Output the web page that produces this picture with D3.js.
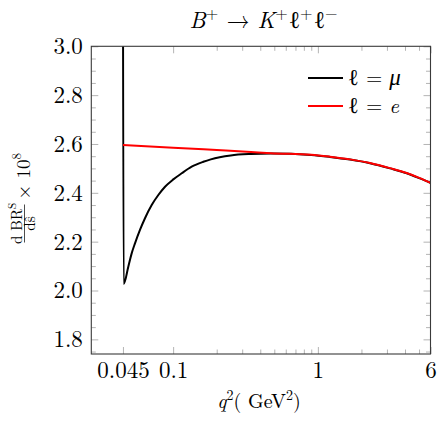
<!DOCTYPE html>
<html>
<head>
<meta charset="utf-8">
<script src="https://cdn.jsdelivr.net/npm/d3@7"></script>
<style>
  body { margin: 0; background: #fff; }
</style>
</head>
<body>
<div class="container"></div>
<script>
// q^2 values (GeV^2) and dBR/ds x 10^8
const q2Mu = [0.045, 0.0455, 0.049, 0.0517, 0.0545, 0.059, 0.0639, 0.0711, 0.079, 0.0879, 0.1003, 0.1146, 0.1343, 0.1616, 0.182, 0.25, 0.345, 0.474, 0.9, 1.213, 1.667, 2.292, 3.15, 4.109, 5.069, 6.0];
const brMu = [3.3, 2.027, 2.0975, 2.152, 2.193, 2.248, 2.296, 2.35, 2.391, 2.425, 2.455, 2.48, 2.507, 2.527, 2.537, 2.553, 2.559, 2.561, 2.555, 2.547, 2.536, 2.521, 2.5, 2.48, 2.459, 2.441];
const q2E = [0.045, 0.1, 0.2, 0.345, 0.474, 0.9, 1.213, 1.667, 2.292, 3.15, 4.109, 5.069, 6.0];
const brE = [2.596, 2.585, 2.575, 2.567, 2.562, 2.556, 2.548, 2.537, 2.522, 2.501, 2.481, 2.46, 2.441];

const xMajor = [0.045, 0.1, 1, 6];
const xMinor = [0.2, 0.3, 0.4, 0.5, 0.6, 0.7, 0.8, 0.9, 2, 3, 4, 5];
const yMajor = [1.8, 2.0, 2.2, 2.4, 2.6, 2.8, 3.0];
const yMinor = [1.75, 1.85, 1.9, 1.95, 2.05, 2.1, 2.15, 2.25, 2.3, 2.35, 2.45, 2.5, 2.55, 2.65, 2.7, 2.75, 2.85, 2.9, 2.95];

const series = [
  { name: "μ", color: "#000", q: q2Mu, v: brMu },
  { name: "e", color: "#ff0000", q: q2E, v: brE },
];

const W = 444, H = 423;
const pLeft = 91.3, pRight = 430.5, pTop = 46.3, pBottom = 354;
const font = '"Latin Modern Roman", "Liberation Serif", serif';
const ellFont = '"Liberation Serif", serif';

const svg = d3.select(".container").append("svg").attr("width", W).attr("height", H);

const x = d3.scaleLog().domain([0.0272, 6]).range([pLeft, pRight]);
const y = d3.scaleLinear().domain([1.74, 3.0]).range([pBottom, pTop]);

svg.append("clipPath").attr("id", "clip")
  .append("rect").attr("x", pLeft).attr("y", pTop).attr("width", pRight - pLeft).attr("height", pBottom - pTop);

const tickColor = "#b4b4b4";

function styleAxis(g) {
  g.select(".domain").remove();
  g.selectAll(".tick line").attr("stroke", tickColor).attr("stroke-width", 1);
  g.selectAll(".tick text").style("font-family", font).style("font-size", "23px").attr("fill", "#000");
}

// bottom/top ticks
svg.append("g").attr("transform", `translate(0,${pBottom})`)
  .call(d3.axisBottom(x).tickValues(xMajor).tickFormat(d => d).tickSizeInner(-7).tickSizeOuter(0).tickPadding(8))
  .call(styleAxis);
svg.append("g").attr("transform", `translate(0,${pBottom})`)
  .call(d3.axisBottom(x).tickValues(xMinor).tickFormat("").tickSizeInner(-4.5).tickSizeOuter(0))
  .call(styleAxis);
svg.append("g").attr("transform", `translate(0,${pTop})`)
  .call(d3.axisTop(x).tickValues(xMajor).tickFormat("").tickSizeInner(-7).tickSizeOuter(0))
  .call(styleAxis);
svg.append("g").attr("transform", `translate(0,${pTop})`)
  .call(d3.axisTop(x).tickValues(xMinor).tickFormat("").tickSizeInner(-4.5).tickSizeOuter(0))
  .call(styleAxis);

// left/right ticks
svg.append("g").attr("transform", `translate(${pLeft},0)`)
  .call(d3.axisLeft(y).tickValues(yMajor).tickFormat(d3.format(".1f")).tickSizeInner(-7).tickSizeOuter(0).tickPadding(8.5))
  .call(styleAxis);
svg.append("g").attr("transform", `translate(${pLeft},0)`)
  .call(d3.axisLeft(y).tickValues(yMinor).tickFormat("").tickSizeInner(-4.5).tickSizeOuter(0))
  .call(styleAxis);
svg.append("g").attr("transform", `translate(${pRight},0)`)
  .call(d3.axisRight(y).tickValues(yMajor).tickFormat("").tickSizeInner(-7).tickSizeOuter(0))
  .call(styleAxis);
svg.append("g").attr("transform", `translate(${pRight},0)`)
  .call(d3.axisRight(y).tickValues(yMinor).tickFormat("").tickSizeInner(-4.5).tickSizeOuter(0))
  .call(styleAxis);

// curves
const line = d3.line().x(d => x(d[0])).y(d => y(d[1])).curve(d3.curveMonotoneX);
svg.append("g").attr("clip-path", "url(#clip)")
  .selectAll("path")
  .data(series)
  .join("path")
  .attr("d", s => line(s.q.map((q, i) => [q, s.v[i]])))
  .attr("fill", "none")
  .attr("stroke", s => s.color)
  .attr("stroke-width", 2)
  .attr("stroke-linejoin", "round");

// frame
svg.append("rect")
  .attr("x", pLeft).attr("y", pTop).attr("width", pRight - pLeft).attr("height", pBottom - pTop)
  .attr("fill", "none").attr("stroke", "#3a3a3a").attr("stroke-width", 1.1);

function txt(sel) {
  return sel.append("text").style("font-family", font).attr("fill", "#000");
}

// legend
series.forEach((s, i) => {
  const ly = 78 + i * 28;
  svg.append("line").attr("x1", 308).attr("x2", 343).attr("y1", ly).attr("y2", ly)
    .attr("stroke", s.color).attr("stroke-width", 2);
  const t = txt(svg).attr("x", 348).attr("y", ly + 6.5).style("font-size", "21px");
  t.append("tspan").style("font-family", ellFont).style("font-size", "23px").text("ℓ");
  t.append("tspan").text(" = ");
  const nm = t.append("tspan").attr("font-style", "italic").text(s.name);
  if (s.name === "μ") nm.style("font-family", ellFont).style("font-size", "23px");
});

// title
const title = txt(svg).attr("x", 264).attr("y", 27.5).attr("text-anchor", "middle").style("font-size", "23px");
[["B", "+"], ["K", "+"], ["ℓ", "+"], ["ℓ", "−"]].forEach(([b, sup], i) => {
  if (i === 1) title.append("tspan").text(" → ");
  const base = title.append("tspan").text(b);
  if (b === "ℓ") base.style("font-family", ellFont).style("font-size", "24px");
  else base.attr("font-style", "italic");
  title.append("tspan").style("font-size", "16px").attr("dy", -9).text(sup);
  title.append("tspan").style("font-size", "16px").attr("dy", 9).text("\u200A");
});

// x label
const xl = txt(svg).attr("x", 259).attr("y", 408).attr("text-anchor", "middle").style("font-size", "20px");
xl.append("tspan").attr("font-style", "italic").text("q");
xl.append("tspan").style("font-size", "14px").attr("dy", -8).text("2");
xl.append("tspan").attr("dy", 8).text("( GeV");
xl.append("tspan").style("font-size", "14px").attr("dy", -8).text("2");
xl.append("tspan").attr("dy", 8).text(")");

// y label
const yl = svg.append("g").attr("transform", "translate(0,196.5) rotate(-90)");
const num = txt(yl).attr("x", -27).attr("y", 21.5).attr("text-anchor", "middle").style("font-size", "15px");
num.append("tspan").text("d BR");
num.append("tspan").style("font-size", "11px").attr("dy", -6).text("S");
yl.append("line").attr("x1", -46).attr("x2", -8).attr("y1", 24.5).attr("y2", 24.5).attr("stroke", "#000").attr("stroke-width", 0.7);
txt(yl).attr("x", -27).attr("y", 34.5).attr("text-anchor", "middle").style("font-size", "15px").text("dŝ");
const ex = txt(yl).attr("x", -3).attr("y", 30).style("font-size", "19px");
ex.append("tspan").text("× 10");
ex.append("tspan").style("font-size", "13px").attr("dy", -9).text("8");
</script>
</body>
</html>
